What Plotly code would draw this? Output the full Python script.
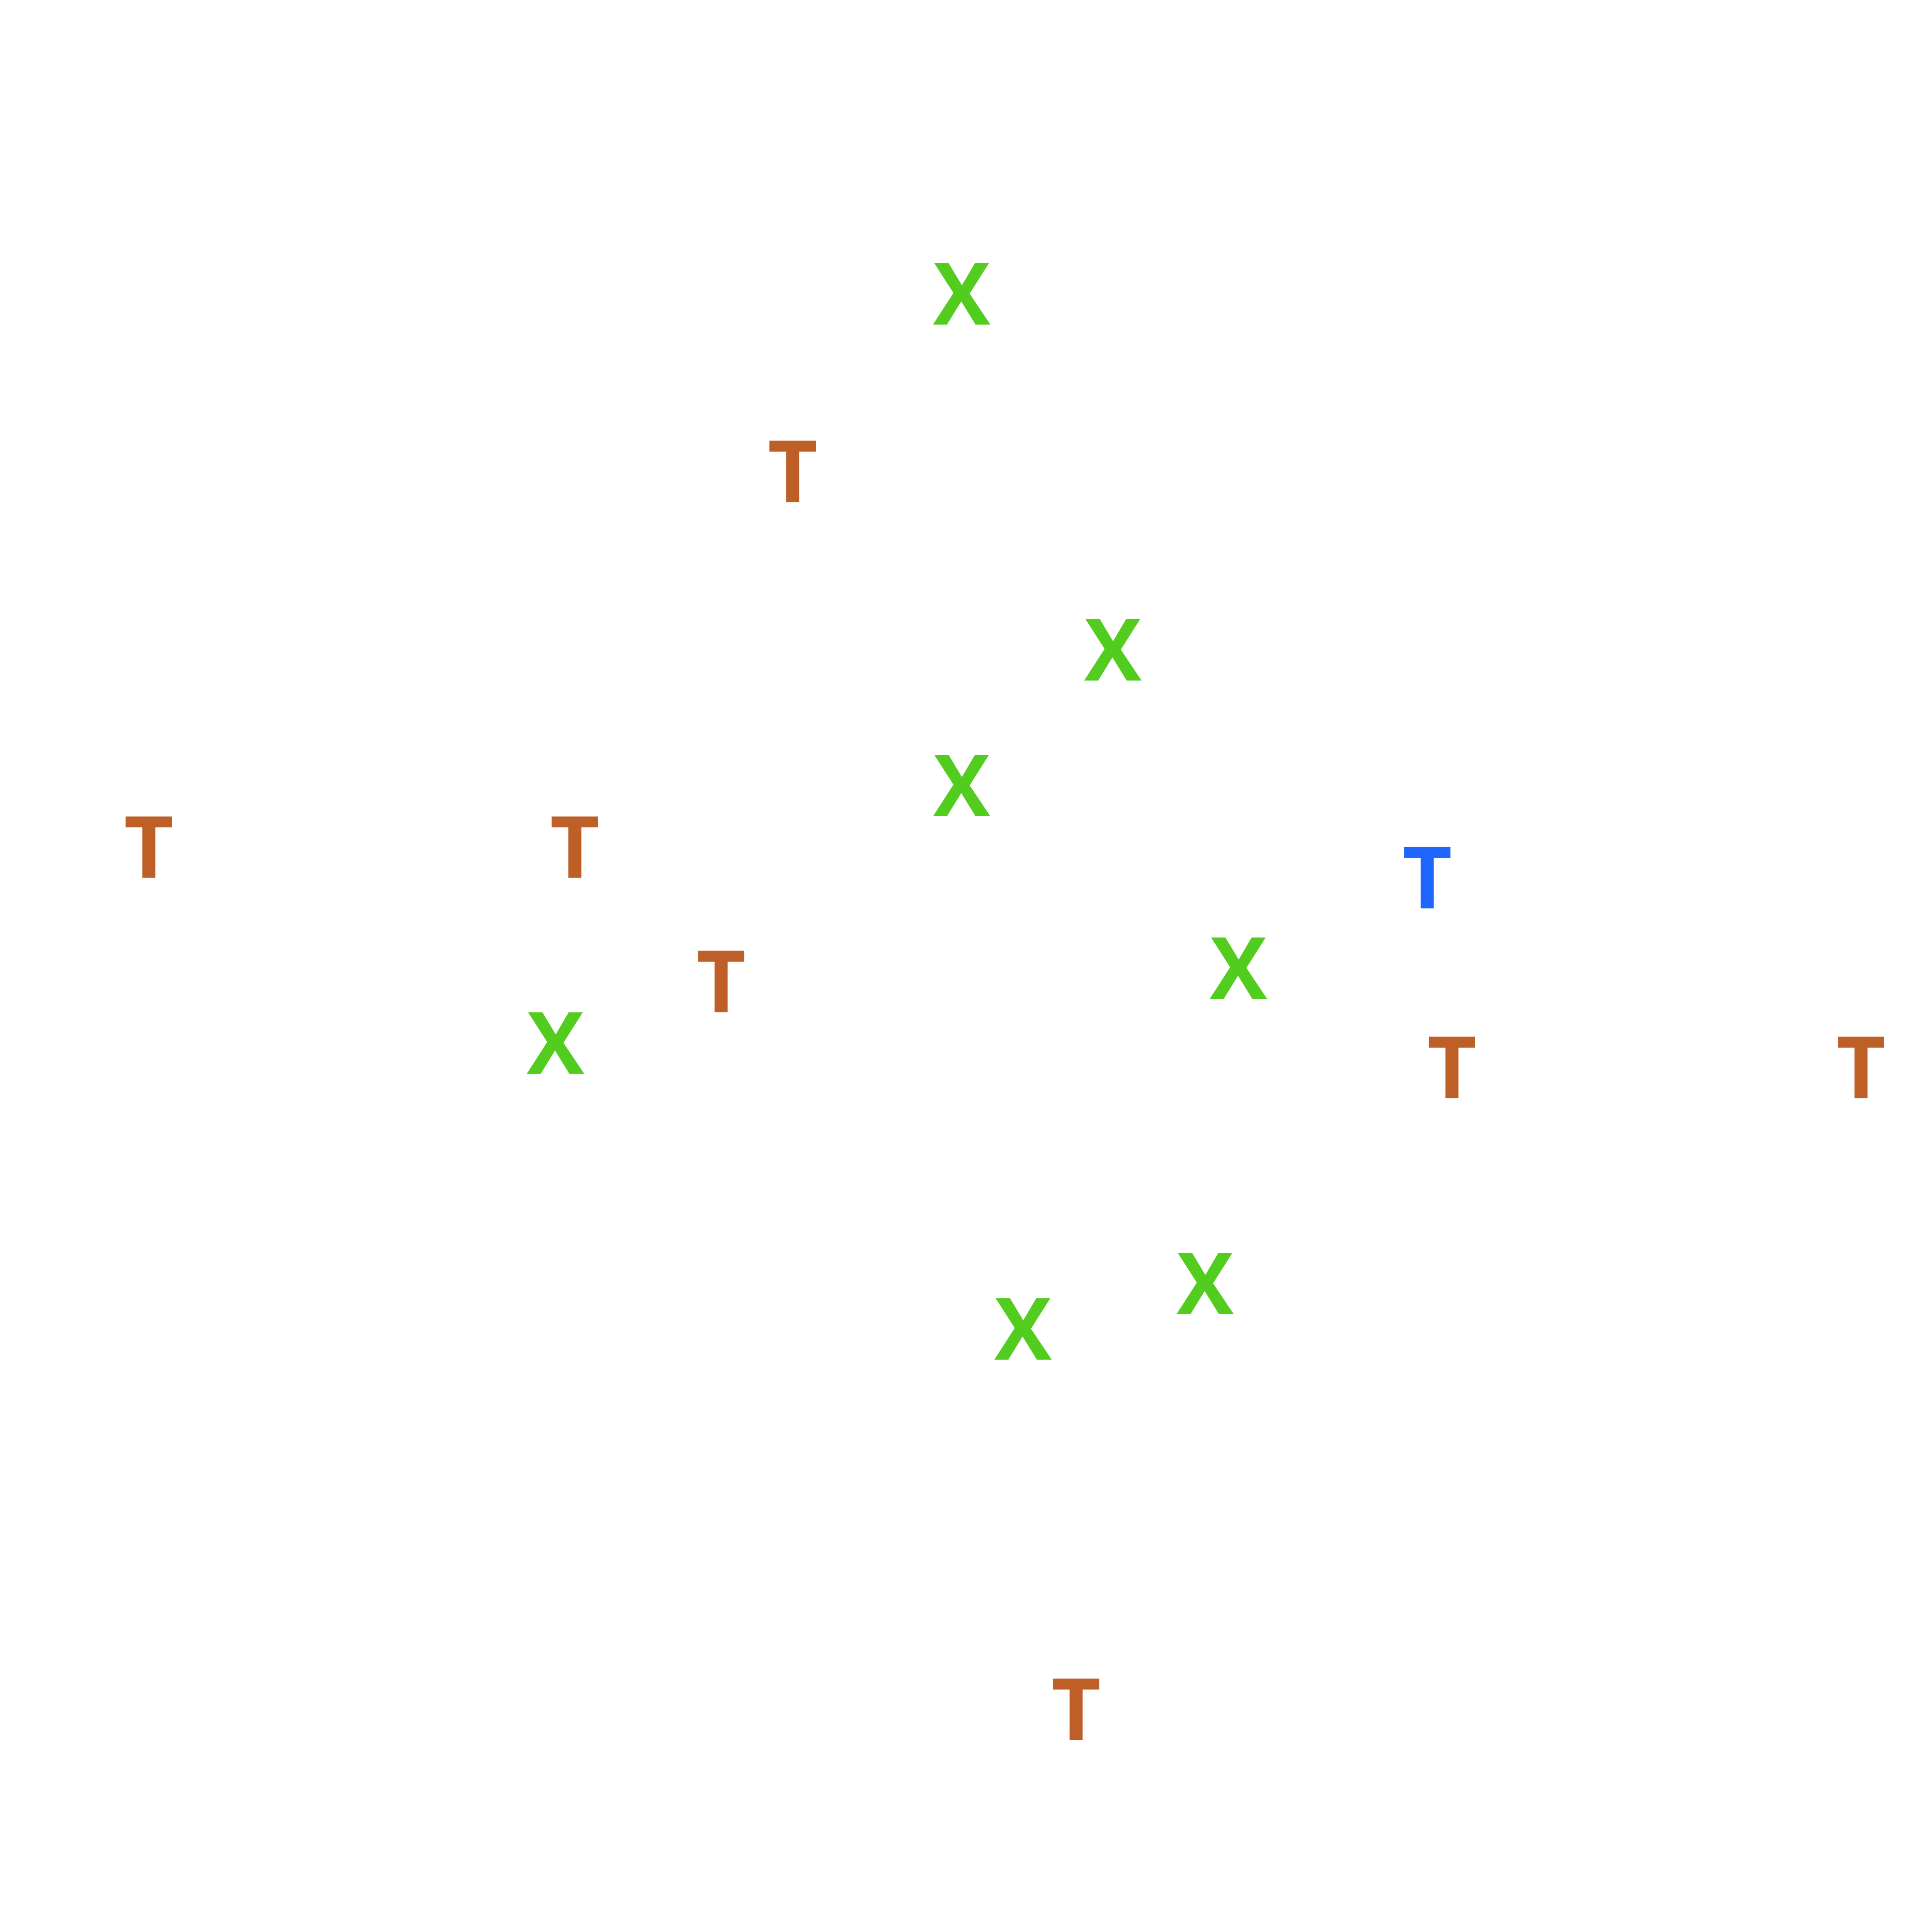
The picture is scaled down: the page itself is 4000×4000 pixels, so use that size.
import plotly.graph_objects as go

# Data (positions, in a 0-4000 coordinate space, y downward)
x_labels_x = [1991, 2304, 1991, 1150, 2564, 2495, 2118]
x_labels_y = [627, 1364, 1645, 2178, 2023, 2676, 2770]

t_orange_x = [1641, 308, 1190, 1493, 3006, 3853, 2228]
t_orange_y = [995, 1773, 1773, 2051, 2229, 2229, 3558]

t_blue_x = [2955]
t_blue_y = [1836]

GREEN = "rgb(82,204,31)"
ORANGE = "rgb(190,95,40)"
BLUE = "rgb(31,102,255)"
FONT = "Open Sans"
SIZE = 178

def add(xs, ys, label, color):
    fig.add_trace(go.Scatter(x=xs, y=ys, mode="text",
                             text=[label] * len(xs),
                             textposition="middle center",
                             textfont=dict(family=FONT, size=SIZE, color=color, weight="bold"),
                             hoverinfo="skip"))

fig = go.Figure()
add(x_labels_x, x_labels_y, "X", GREEN)
add(t_orange_x, t_orange_y, "T", ORANGE)
add(t_blue_x, t_blue_y, "T", BLUE)

fig.update_layout(
    width=4000, height=4000,
    margin=dict(l=0, r=0, t=0, b=0),
    paper_bgcolor="white", plot_bgcolor="white",
    showlegend=False,
    xaxis=dict(range=[0, 4000], visible=False, fixedrange=True),
    yaxis=dict(range=[4000, 0], visible=False, fixedrange=True),
)
fig.write_html("out.html")
